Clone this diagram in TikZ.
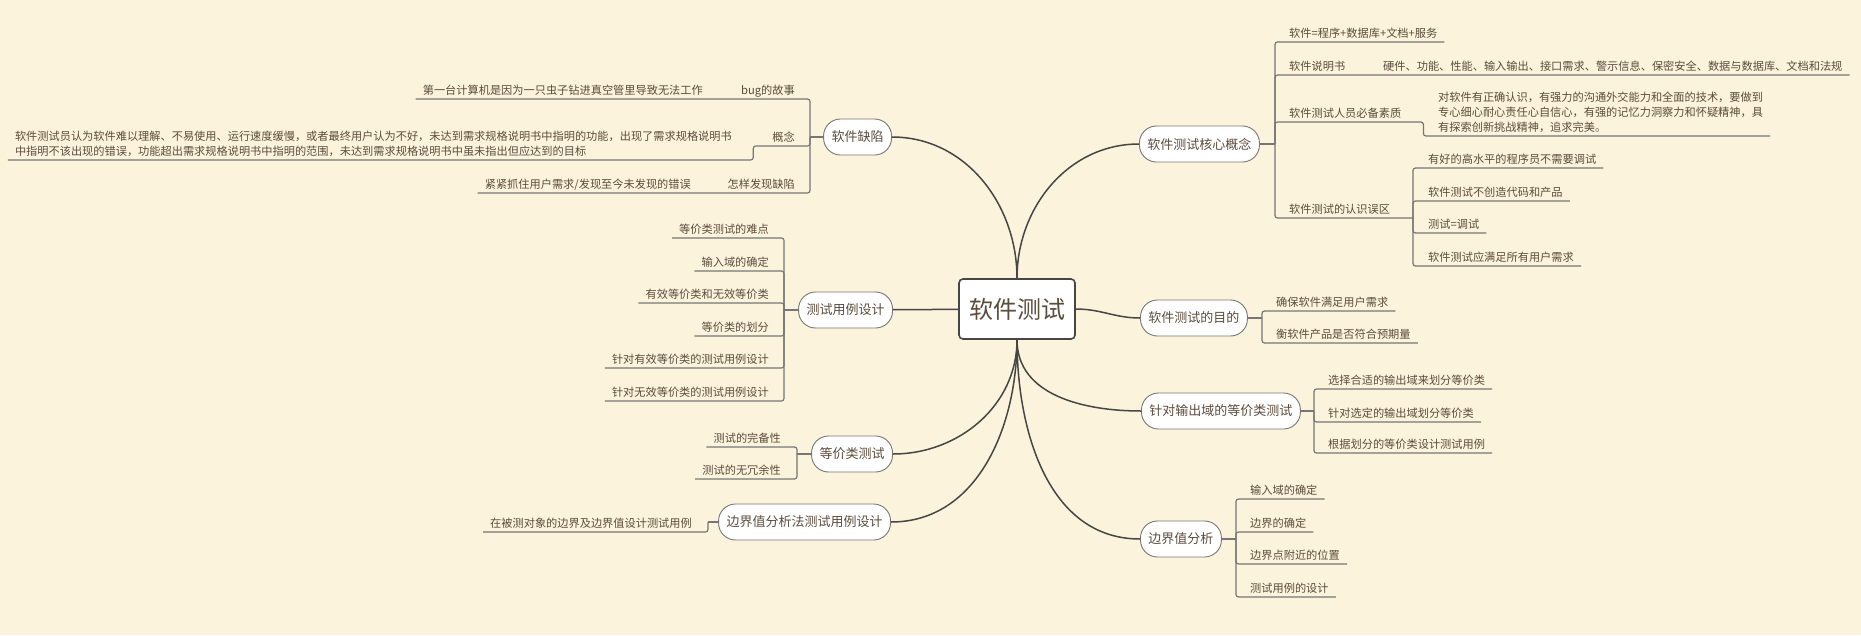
\documentclass[tikz,border=0pt]{standalone}
\usepackage{fontspec}
\setmainfont{Noto Sans CJK SC}
\usetikzlibrary{positioning}
\definecolor{bgcol}{RGB}{251,243,220}
\definecolor{txtcol}{RGB}{92,76,60}
\definecolor{darkline}{RGB}{70,70,70}
\definecolor{greyline}{RGB}{118,118,118}
\tikzset{
  rootnode/.style={draw=darkline,line width=1.6pt,fill=white,rounded corners=4pt,text=txtcol,font=\fontsize{24}{28}\selectfont,minimum height=60pt,inner xsep=10pt},
  topic/.style={draw=greyline,line width=0.9pt,fill=white,rounded corners=17pt,text=txtcol,font=\fontsize{13}{16}\selectfont,minimum height=36pt,inner xsep=8pt},
  leaf/.style={text=txtcol,font=\fontsize{11.2}{15}\selectfont,inner xsep=7pt,inner ysep=3pt},
  leafr/.style={leaf,text depth=1.5pt,anchor=south west},
  leafl/.style={leaf,text depth=1.5pt,anchor=south east},
  curve/.style={draw=darkline,line width=1.5pt},
  uline/.style={draw=greyline,line width=1.2pt,rounded corners=2.5pt},
  stub/.style={draw=greyline,line width=2.4pt},
}
\begin{document}
\begin{tikzpicture}[x=1pt,y=-1pt]
\useasboundingbox (0,0) rectangle (1861,635);
\fill[bgcol] (0,0) rectangle (1861,635);
\node[rootnode] (root) at (1017,309) {软件测试};
\node[topic,anchor=east] (qx) at (892,137) {软件缺陷};
\node[topic,anchor=east] (yl) at (893,310) {测试用例设计};
\node[topic,anchor=east] (dj) at (893,454) {等价类测试};
\node[topic,anchor=east] (bf) at (891,522) {边界值分析法测试用例设计};
\node[topic,anchor=west] (hx) at (1139,144) {软件测试核心概念};
\node[topic,anchor=west] (md) at (1140,318) {软件测试的目的};
\node[topic,anchor=west] (sc) at (1141,411) {针对输出域的等价类测试};
\node[topic,anchor=west] (bj) at (1140,539) {边界值分析};
\draw[curve] (root) to[out=90,in=0] (qx);
\draw[curve] (root) -- (yl);
\draw[curve] (root) to[out=-90,in=0] (dj);
\draw[curve] (root) to[out=-90,in=0] (bf);
\draw[curve] (root) to[out=90,in=180] (hx);
\draw[curve] (root) to[out=0,in=180] (md);
\draw[curve] (root) to[out=-90,in=180] (sc);
\draw[curve] (root) to[out=-90,in=180] (bj);
\coordinate (qxb) at (810,137);
\coordinate (ylb) at (784,310);
\coordinate (djb) at (797,454);
\coordinate (bfb) at (708,522);
\coordinate (hxb) at (1275,144);
\coordinate (hx4b) at (1413,218);
\coordinate (mdb) at (1262,318);
\coordinate (scb) at (1314,411);
\coordinate (bjb) at (1236,539);
\node[leafl] (qx1) at (802,99) {bug的故事};
\node[leafl] (qx1a) at (710,99) {第一台计算机是因为一只虫子钻进真空管里导致无法工作};
\node[leafl] (qx2) at (802,146) {概念};
\node[leaf,anchor=south east,align=left] (qx2a) at (739,160) {软件测试员认为软件难以理解、不易使用、运行速度缓慢，或者最终用户认为不好，未达到需求规格说明书中指明的功能，出现了需求规格说明书\\中指明不该出现的错误，功能超出需求规格说明书中指明的范围，未达到需求规格说明书中虽未指出但应达到的目标};
\node[leafl] (qx3) at (802,193) {怎样发现缺陷};
\node[leafl] (qx3a) at (698,193) {紧紧抓住用户需求/发现至今未发现的错误};
\draw[uline] (qxb) |- (qx1.south east) -- (qx1.south west) -- (qx1a.south east) -- (qx1a.south west);
\draw[uline] (qxb) |- (qx2.south east) -- (qx2.south west) -- ++(-12,0) |- (qx2a.south east) -- (qx2a.south west);
\draw[uline] (qxb) |- (qx3.south east) -- (qx3.south west) -- (qx3a.south east) -- (qx3a.south west);
\draw[stub] (qx.west) -- (qxb);
\foreach \t/\y [count=\i] in {等价类测试的难点/238,输入域的确定/271,有效等价类和无效等价类/303,等价类的划分/336,针对有效等价类的测试用例设计/368,针对无效等价类的测试用例设计/401} {
  \node[leafl] (yl\i) at (776,\y) {\t};
  \draw[uline] (ylb) |- (yl\i.south east) -- (yl\i.south west);
}
\draw[stub] (yl.west) -- (ylb);
\foreach \t/\y [count=\i] in {测试的完备性/447,测试的无冗余性/479} {
  \node[leafl] (dj\i) at (788,\y) {\t};
  \draw[uline] (djb) |- (dj\i.south east) -- (dj\i.south west);
}
\draw[stub] (dj.west) -- (djb);
\node[leafl] (bf1) at (699,532) {在被测对象的边界及边界值设计测试用例};
\draw[uline] (bfb) |- (bf1.south east) -- (bf1.south west);
\draw[stub] (bf.west) -- (bfb);
\node[leafr] (hx1) at (1282,42) {软件=程序+数据库+文档+服务};
\node[leafr] (hx2) at (1282,75) {软件说明书};
\node[leafr] (hx2a) at (1376,75) {硬件、功能、性能、输入输出、接口需求、警示信息、保密安全、数据与数据库、文档和法规};
\node[leafr] (hx3) at (1282,122) {软件测试人员必备素质};
\node[leaf,anchor=south west,align=left] (hx3a) at (1431,136) {对软件有正确认识，有强力的沟通外交能力和全面的技术，要做到\\专心细心耐心责任心自信心，有强的记忆力洞察力和怀疑精神，具\\有探索创新挑战精神，追求完美。};
\node[leafr] (hx4) at (1282,218) {软件测试的认识误区};
\draw[uline] (hxb) |- (hx1.south west) -- (hx1.south east);
\draw[uline] (hxb) |- (hx2.south west) -- (hx2.south east) -- (hx2a.south west) -- (hx2a.south east);
\draw[uline] (hxb) |- (hx3.south west) -- (hx3.south east) -- ++(15,0) |- (hx3a.south west) -- (hx3a.south east);
\draw[uline] (hxb) |- (hx4.south west) -- (hx4.south east) -- (hx4b);
\draw[stub] (hx.east) -- (hxb);
\foreach \t/\y [count=\i] in {有好的高水平的程序员不需要调试/168,软件测试不创造代码和产品/201,测试=调试/233,软件测试应满足所有用户需求/266} {
  \node[leafr] (wq\i) at (1421,\y) {\t};
  \draw[uline] (hx4b) |- (wq\i.south west) -- (wq\i.south east);
}
\foreach \t/\y [count=\i] in {确保软件满足用户需求/311,衡软件产品是否符合预期量/343} {
  \node[leafr] (md\i) at (1269,\y) {\t};
  \draw[uline] (mdb) |- (md\i.south west) -- (md\i.south east);
}
\draw[stub] (md.east) -- (mdb);
\foreach \t/\y [count=\i] in {选择合适的输出域来划分等价类/389,针对选定的输出域划分等价类/422,根据划分的等价类设计测试用例/453} {
  \node[leafr] (sc\i) at (1321,\y) {\t};
  \draw[uline] (scb) |- (sc\i.south west) -- (sc\i.south east);
}
\draw[stub] (sc.east) -- (scb);
\foreach \t/\y [count=\i] in {输入域的确定/499,边界的确定/532,边界点附近的位置/564,测试用例的设计/597} {
  \node[leafr] (bj\i) at (1243,\y) {\t};
  \draw[uline] (bjb) |- (bj\i.south west) -- (bj\i.south east);
}
\draw[stub] (bj.east) -- (bjb);
\end{tikzpicture}
\end{document}
